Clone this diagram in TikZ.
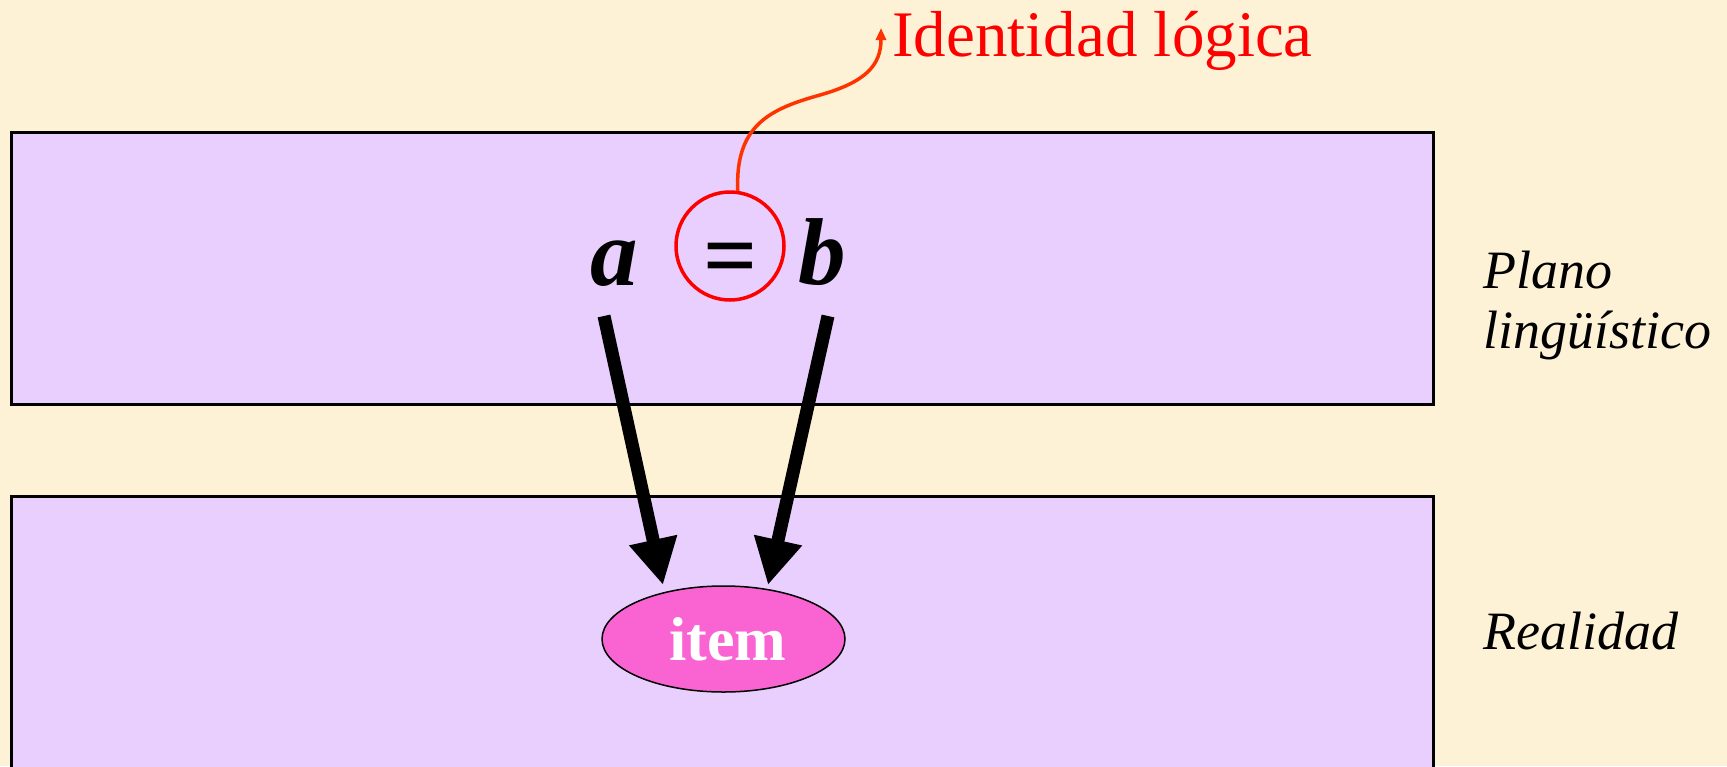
\documentclass[tikz,border=0pt]{standalone}
\usepackage{fontspec}
\setmainfont{Liberation Serif}
\usetikzlibrary{arrows.meta,shapes.geometric}
\definecolor{bgcream}{RGB}{253,242,214}
\definecolor{lav}{RGB}{232,207,253}
\definecolor{pinkfill}{RGB}{250,100,210}
\definecolor{orred}{RGB}{255,51,0}
\begin{document}
\begin{tikzpicture}[x=1pt,y=-1pt,
  plane/.style={draw=black,line width=3pt,fill=lav},
  letter/.style={font=\fontsize{95}{100}\selectfont\bfseries\itshape,inner sep=0pt},
  bigarrow/.style={line width=13pt,-{Triangle[width=46pt,length=46pt]}},
  sidelabel/.style={font=\fontsize{54}{60}\selectfont\itshape,inner sep=0pt,anchor=base west,align=left},
  identarrow/.style={orred,line width=3.5pt,-{Triangle[width=10pt,length=12pt]}}]
\useasboundingbox (0,0) rectangle (1727,766);
\fill[bgcream] (0,0) rectangle (1727,766);
\clip (0,0) rectangle (1727,766);
\draw[plane] (11,132) rectangle (1433,404);
\draw[plane] (11,496) rectangle (1433,790);
% letters
\node[letter,anchor=base] (a) at (614,285) {a};
\node[letter,anchor=base] (b) at (822,284) {b};
\node[circle,draw=red,line width=3.5pt,minimum size=108pt,inner sep=0pt] (eq) at (730,246) {};
\node[font=\fontsize{95}{100}\selectfont\bfseries,inner sep=0pt,anchor=base] (eqsign) at (731,287) {=};
% item
\node[ellipse,draw=black,line width=1.5pt,fill=pinkfill,minimum width=243pt,minimum height=106pt,inner sep=0pt,text=white,font=\fontsize{62}{70}\selectfont\bfseries] (item) at (723.5,639) {\hspace*{9pt}item};
% arrows
\coordinate (aS) at (604,316);
\coordinate (aT) at (663,585);
\coordinate (bS) at (828,316);
\coordinate (bT) at (768,585);
\draw[bigarrow] (aS) -- (aT);
\draw[bigarrow] (bS) -- (bT);
% identity label
\node[font=\fontsize{65}{70}\selectfont,text=red,anchor=base west,inner sep=0pt] (ident) at (892,56) {Identidad lógica};
\coordinate (identmid) at (820,95);
\coordinate (identtip) at (881,28);
\draw[identarrow] (eq.82) .. controls (735,125) and (770,109) .. (identmid)
  .. controls (866,82) and (881,65) .. (identtip);
% side labels
\node[sidelabel] (plano) at (1483,348) {Plano\\lingüístico};
\node[sidelabel] (real) at (1483,649) {Realidad};
\end{tikzpicture}
\end{document}
